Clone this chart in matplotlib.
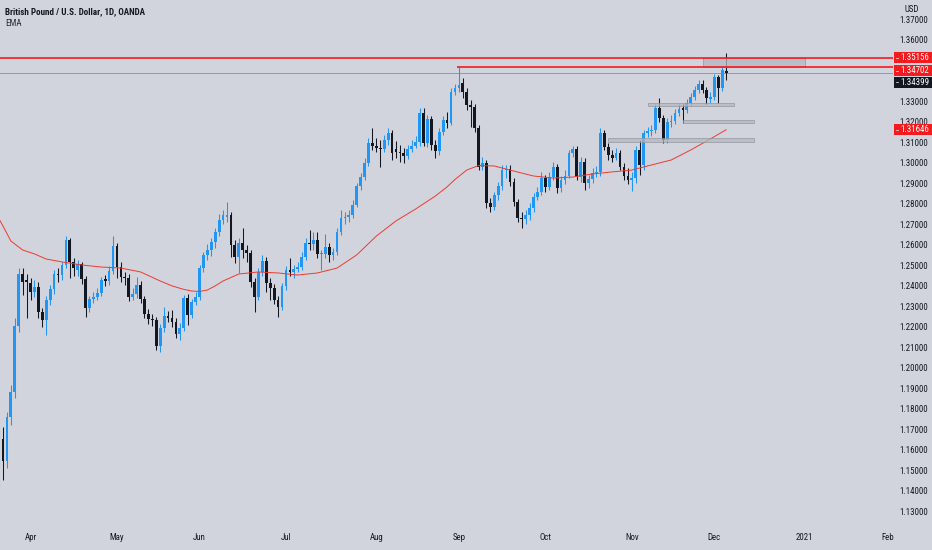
import numpy as np
import pandas as pd
import matplotlib
matplotlib.use("Agg")
from matplotlib import pyplot as plt
from matplotlib import font_manager
from matplotlib.patches import Rectangle
from matplotlib.transforms import blended_transform_factory

# GBPUSD daily bars, first bar is Fri 2020-03-20
first_day = "2020-03-20"

opens = [1.1490,
         1.1656, 1.1548, 1.1764, 1.1885, 1.2208, 1.2461, 1.2432, 1.2417, 1.2373, 1.2398,
         1.2275, 1.2237, 1.2334, 1.2388, 1.2461, 1.2456, 1.2505, 1.2627, 1.2519, 1.2481,
         1.2510, 1.2437, 1.2295, 1.2339, 1.2349, 1.2368, 1.2437, 1.2427, 1.2476, 1.2598,
         1.2495, 1.2447, 1.2442, 1.2349, 1.2364, 1.2408, 1.2339, 1.2266, 1.2242, 1.2237,
         1.2110, 1.2198, 1.2256, 1.2247, 1.2227, 1.2168, 1.2198, 1.2344, 1.2261, 1.2324,
         1.2349, 1.2491, 1.2554, 1.2578, 1.2617, 1.2666, 1.2724, 1.2739, 1.2749, 1.2603,
         1.2544, 1.2612, 1.2578, 1.2564, 1.2422, 1.2349, 1.2471, 1.2524, 1.2417, 1.2393,
         1.2334, 1.2300, 1.2403, 1.2481, 1.2471, 1.2485, 1.2495, 1.2544, 1.2612, 1.2607,
         1.2627, 1.2559, 1.2560, 1.2593, 1.2554, 1.2568, 1.2666, 1.2734, 1.2739, 1.2749,
         1.2798, 1.2890, 1.2934, 1.3003, 1.3100, 1.3085, 1.3076, 1.3071, 1.3115, 1.3149,
         1.3071, 1.3056, 1.3051, 1.3037, 1.3071, 1.3085, 1.3105, 1.3246, 1.3100, 1.3217,
         1.3090, 1.3061, 1.3154, 1.3212, 1.3198, 1.3349, 1.3368, 1.3393, 1.3349, 1.3285,
         1.3276, 1.3173, 1.2983, 1.3003, 1.2807, 1.2788, 1.2846, 1.2890, 1.2968, 1.2973,
         1.2910, 1.2812, 1.2734, 1.2729, 1.2749, 1.2783, 1.2837, 1.2861, 1.2930, 1.2886,
         1.2934, 1.2983, 1.2881, 1.2920, 1.2939, 1.3051, 1.3071, 1.2934, 1.3007, 1.2905,
         1.2925, 1.2954, 1.2959, 1.3149, 1.3081, 1.3042, 1.3027, 1.3051, 1.2983, 1.2939,
         1.2920, 1.2930, 1.3066, 1.2993, 1.3149, 1.3158, 1.3163, 1.3271, 1.3222, 1.3115,
         1.3202, 1.3207, 1.3246, 1.3271, 1.3261, 1.3295, 1.3324, 1.3359, 1.3388, 1.3359,
         1.3315, 1.3324, 1.3422, 1.3368, 1.3451]

highs = [1.1700,
         1.1715, 1.1787, 1.1919, 1.2247, 1.2491, 1.2491, 1.2461, 1.2442, 1.2432, 1.2422,
         1.2295, 1.2354, 1.2408, 1.2481, 1.2491, 1.2519, 1.2646, 1.2637, 1.2539, 1.2529,
         1.2519, 1.2451, 1.2354, 1.2373, 1.2393, 1.2447, 1.2456, 1.2500, 1.2646, 1.2612,
         1.2519, 1.2471, 1.2461, 1.2393, 1.2447, 1.2427, 1.2354, 1.2290, 1.2266, 1.2251,
         1.2217, 1.2300, 1.2280, 1.2285, 1.2247, 1.2222, 1.2359, 1.2364, 1.2339, 1.2373,
         1.2505, 1.2568, 1.2607, 1.2637, 1.2685, 1.2754, 1.2773, 1.2812, 1.2763, 1.2627,
         1.2637, 1.2685, 1.2603, 1.2578, 1.2442, 1.2491, 1.2554, 1.2544, 1.2442, 1.2412,
         1.2354, 1.2417, 1.2500, 1.2539, 1.2505, 1.2519, 1.2568, 1.2637, 1.2676, 1.2666,
         1.2666, 1.2578, 1.2656, 1.2612, 1.2588, 1.2685, 1.2773, 1.2763, 1.2773, 1.2822,
         1.2905, 1.2954, 1.3027, 1.3124, 1.3173, 1.3124, 1.3115, 1.3139, 1.3173, 1.3163,
         1.3110, 1.3090, 1.3076, 1.3090, 1.3115, 1.3134, 1.3271, 1.3271, 1.3237, 1.3232,
         1.3115, 1.3173, 1.3232, 1.3251, 1.3368, 1.3388, 1.3471, 1.3417, 1.3368, 1.3310,
         1.3290, 1.3188, 1.3032, 1.3017, 1.2832, 1.2861, 1.2910, 1.2993, 1.2993, 1.2993,
         1.2930, 1.2827, 1.2763, 1.2773, 1.2807, 1.2856, 1.2886, 1.2959, 1.2944, 1.2959,
         1.3007, 1.2998, 1.2939, 1.2968, 1.3066, 1.3085, 1.3085, 1.3032, 1.3027, 1.2944,
         1.2978, 1.2988, 1.3173, 1.3163, 1.3100, 1.3066, 1.3076, 1.3066, 1.3003, 1.2978,
         1.2959, 1.3085, 1.3115, 1.3163, 1.3178, 1.3188, 1.3290, 1.3319, 1.3237, 1.3222,
         1.3237, 1.3266, 1.3290, 1.3290, 1.3315, 1.3344, 1.3378, 1.3407, 1.3407, 1.3373,
         1.3349, 1.3437, 1.3432, 1.3476, 1.3539]

lows = [1.1417,
        1.1456, 1.1515, 1.1725, 1.1856, 1.2178, 1.2359, 1.2247, 1.2334, 1.2349, 1.2247,
        1.2203, 1.2163, 1.2310, 1.2364, 1.2422, 1.2432, 1.2491, 1.2442, 1.2451, 1.2451,
        1.2412, 1.2251, 1.2275, 1.2319, 1.2334, 1.2354, 1.2403, 1.2408, 1.2461, 1.2442,
        1.2422, 1.2408, 1.2329, 1.2334, 1.2344, 1.2319, 1.2247, 1.2217, 1.2208, 1.2090,
        1.2081, 1.2178, 1.2227, 1.2203, 1.2149, 1.2139, 1.2183, 1.2212, 1.2247, 1.2310,
        1.2334, 1.2471, 1.2529, 1.2549, 1.2588, 1.2646, 1.2705, 1.2715, 1.2544, 1.2515,
        1.2466, 1.2539, 1.2519, 1.2398, 1.2275, 1.2334, 1.2451, 1.2373, 1.2334, 1.2315,
        1.2251, 1.2285, 1.2383, 1.2451, 1.2442, 1.2471, 1.2481, 1.2529, 1.2578, 1.2578,
        1.2539, 1.2481, 1.2539, 1.2519, 1.2529, 1.2554, 1.2651, 1.2705, 1.2715, 1.2734,
        1.2788, 1.2871, 1.2920, 1.2988, 1.3066, 1.3056, 1.2983, 1.3056, 1.3090, 1.3017,
        1.3027, 1.3007, 1.3003, 1.3022, 1.3056, 1.3076, 1.3085, 1.3085, 1.3081, 1.3066,
        1.3027, 1.3042, 1.3139, 1.3173, 1.3188, 1.3334, 1.3349, 1.3319, 1.3261, 1.3178,
        1.3154, 1.2968, 1.2968, 1.2783, 1.2763, 1.2773, 1.2822, 1.2871, 1.2930, 1.2890,
        1.2793, 1.2715, 1.2685, 1.2705, 1.2724, 1.2763, 1.2822, 1.2846, 1.2861, 1.2871,
        1.2920, 1.2856, 1.2861, 1.2900, 1.2930, 1.3032, 1.2920, 1.2910, 1.2871, 1.2881,
        1.2905, 1.2934, 1.2939, 1.3066, 1.3017, 1.3007, 1.3017, 1.2968, 1.2920, 1.2900,
        1.2866, 1.2905, 1.2944, 1.2968, 1.3129, 1.3134, 1.3149, 1.3202, 1.3100, 1.3100,
        1.3178, 1.3193, 1.3232, 1.3198, 1.3246, 1.3281, 1.3310, 1.3344, 1.3344, 1.3290,
        1.3295, 1.3310, 1.3295, 1.3354, 1.3407]

closes = [1.1671,
          1.1548, 1.1764, 1.1885, 1.2208, 1.2461, 1.2422, 1.2422, 1.2373, 1.2398, 1.2275,
          1.2237, 1.2334, 1.2388, 1.2461, 1.2456, 1.2505, 1.2627, 1.2519, 1.2491, 1.2510,
          1.2437, 1.2295, 1.2339, 1.2349, 1.2368, 1.2432, 1.2427, 1.2476, 1.2598, 1.2495,
          1.2447, 1.2442, 1.2349, 1.2364, 1.2408, 1.2339, 1.2266, 1.2242, 1.2237, 1.2110,
          1.2198, 1.2256, 1.2247, 1.2227, 1.2168, 1.2198, 1.2344, 1.2261, 1.2324, 1.2349,
          1.2491, 1.2554, 1.2578, 1.2617, 1.2666, 1.2724, 1.2749, 1.2749, 1.2603, 1.2544,
          1.2612, 1.2578, 1.2564, 1.2422, 1.2349, 1.2471, 1.2524, 1.2417, 1.2393, 1.2334,
          1.2300, 1.2403, 1.2481, 1.2471, 1.2485, 1.2495, 1.2544, 1.2612, 1.2607, 1.2627,
          1.2559, 1.2560, 1.2593, 1.2554, 1.2568, 1.2666, 1.2734, 1.2739, 1.2749, 1.2798,
          1.2890, 1.2934, 1.3003, 1.3100, 1.3085, 1.3076, 1.3071, 1.3115, 1.3149, 1.3051,
          1.3056, 1.3051, 1.3037, 1.3071, 1.3085, 1.3105, 1.3246, 1.3100, 1.3217, 1.3090,
          1.3061, 1.3154, 1.3212, 1.3198, 1.3349, 1.3368, 1.3383, 1.3349, 1.3285, 1.3276,
          1.3173, 1.2983, 1.3003, 1.2807, 1.2788, 1.2846, 1.2890, 1.2968, 1.2973, 1.2910,
          1.2812, 1.2734, 1.2729, 1.2749, 1.2783, 1.2837, 1.2861, 1.2930, 1.2886, 1.2934,
          1.2983, 1.2881, 1.2920, 1.2939, 1.3051, 1.3071, 1.2934, 1.3007, 1.2905, 1.2925,
          1.2954, 1.2959, 1.3149, 1.3081, 1.3042, 1.3027, 1.3051, 1.2983, 1.2939, 1.2920,
          1.2930, 1.3066, 1.2993, 1.3149, 1.3158, 1.3163, 1.3271, 1.3222, 1.3115, 1.3202,
          1.3207, 1.3246, 1.3266, 1.3261, 1.3295, 1.3324, 1.3359, 1.3388, 1.3359, 1.3320,
          1.3324, 1.3422, 1.3368, 1.3456, 1.34399]

# EMA read at a bar every few days (bar number counted from first_day)
ema_bars = [0, 1, 3, 6, 9, 12, 16, 21, 26, 31, 36, 41, 44, 47, 49, 51, 53, 55, 57, 61,
            66, 71, 76, 81, 86, 91, 96, 101, 106, 111, 114, 116, 119, 122, 126, 131, 136,
            141, 146, 151, 156, 161, 166, 171, 176, 181, 185]
ema_values = [1.2729, 1.2695, 1.2622, 1.2578, 1.2559, 1.2534, 1.2520, 1.2505, 1.2495, 1.2490,
              1.2471, 1.2427, 1.2403, 1.2386, 1.2378, 1.2376, 1.2383, 1.2403, 1.2427, 1.2461,
              1.2471, 1.2466, 1.2456, 1.2466, 1.2490, 1.2554, 1.2646, 1.2720, 1.2778, 1.2841,
              1.2886, 1.2922, 1.2968, 1.2990, 1.2988, 1.2963, 1.2939, 1.2929, 1.2934, 1.2949,
              1.2959, 1.2968, 1.2993, 1.3017, 1.3066, 1.3120, 1.31646]

# horizontal levels drawn on the chart
level_prices = [1.35156, 1.34702]
level_starts = ["2020-03-20", "2020-09-01"]
last_price = 1.34399

# grey zones
zone_starts = ["2020-11-26", "2020-11-06", "2020-11-19", "2020-10-23"]
zone_ends = ["2021-01-01", "2020-12-08", "2020-12-15", "2020-12-15"]
zone_lows = [1.34702, 1.3281, 1.3198, 1.3103]
zone_highs = [1.35156, 1.3295, 1.3212, 1.3124]

month_labels = ["Apr", "May", "Jun", "Jul", "Aug", "Sep", "Oct", "Nov", "Dec", "2021", "Feb"]
month_firsts = ["2020-04-01", "2020-05-01", "2020-06-01", "2020-07-01", "2020-08-03",
                "2020-09-01", "2020-10-01", "2020-11-02", "2020-12-01", "2021-01-01",
                "2021-02-01"]

price_ticks = [1.37, 1.36, 1.33, 1.32, 1.31, 1.30, 1.29, 1.28, 1.27, 1.26, 1.25, 1.24,
               1.23, 1.22, 1.21, 1.20, 1.19, 1.18, 1.17, 1.16, 1.15, 1.14, 1.13]

BG = "#d1d4dc"
BLUE = "#2196f3"
DARK = "#131722"
RED = "#f51a1e"


def narrow_font():
    # the chart uses a narrow face; take one if the box has it
    fonts = font_manager.fontManager.ttflist
    names = {f.name for f in fonts}
    for name in ["Liberation Sans Narrow", "Roboto Condensed", "Open Sans Condensed",
                 "Noto Sans Condensed", "DejaVu Sans Condensed", "Arial Narrow"]:
        if name in names:
            return {"family": [name, "DejaVu Sans"]}, 1.0
    for f in fonts:
        if f.name in ("DejaVu Sans", "Noto Sans", "Open Sans", "Roboto") and \
                str(f.stretch) in ("condensed", "semi-condensed", "extra-condensed"):
            return {"family": [f.name, "DejaVu Sans"], "stretch": f.stretch}, 1.0
    return {"family": ["Roboto", "DejaVu Sans"]}, 0.86


FONT, SCALE = narrow_font()
TICK_FS = 6.4 * SCALE
HEAD_FS = 6.5 * SCALE

days = pd.bdate_range(first_day, "2021-03-31")


def bar_of(day):
    return days.get_loc(pd.Timestamp(day))


fig = plt.figure(figsize=(9.32, 5.5), dpi=100, facecolor=BG)
ax = fig.add_axes([0, 25 / 550, 893 / 932, 525 / 550])
ax.set_facecolor(BG)
for s in ax.spines.values():
    s.set_visible(False)
ax.set_xticks([])
ax.set_yticks([])
ax.set_xlim(0.237, 227.46)
ax.set_ylim(1.12366, 1.37976)
px = (1.37976 - 1.12366) / 525  # price per pixel
xright = 227.46

o = np.array(opens)
h = np.array(highs)
l = np.array(lows)
c = np.array(closes)
x = np.arange(len(o))
colors = np.where(c >= o, BLUE, DARK)

# candles
ax.vlines(x, l, h, colors=colors, lw=0.75, zorder=2)
ax.bar(x, np.maximum(np.abs(c - o), px * 0.9), bottom=np.minimum(o, c), width=0.7,
       color=colors, linewidth=0, zorder=3)

# EMA
ax.plot(ema_bars, ema_values, color="#ee3a2e", lw=0.7, zorder=4, solid_joinstyle="round")

# levels
ax.axhline(last_price, color="#9598a1", lw=0.7, zorder=1)
for price, start in zip(level_prices, level_starts):
    ax.hlines(price, bar_of(start) - 0.5, xright, color=RED, lw=1.2, zorder=6)

# zones
for s0, s1, lo, hi in zip(zone_starts, zone_ends, zone_lows, zone_highs):
    ax.add_patch(Rectangle((bar_of(s0), lo), bar_of(s1) - bar_of(s0), hi - lo,
                           facecolor="#b4b7bf", alpha=0.75, edgecolor="#8f929b",
                           lw=0.6, zorder=5))

# price scale
blend = blended_transform_factory(ax.transAxes, ax.transData)
label_x = 914 / 893
for p in price_ticks:
    ax.text(label_x, p, f"{p:.5f}", transform=blend, ha="center", va="center",
            fontsize=TICK_FS, color=DARK, **FONT)

tags = [(level_prices[0], RED, 0), (level_prices[1], RED, 3.5),
        (last_price, DARK, 9), (ema_values[-1], RED, 0)]
for p, col, shift in tags:
    yc = p - shift * px
    ax.add_patch(Rectangle((894 / 893, yc - 5.5 * px), 38 / 893, 11 * px, transform=blend,
                           facecolor=col, edgecolor="none", clip_on=False, zorder=8))
    ax.plot([895.5 / 893, 898 / 893], [yc, yc], transform=blend, color="white", lw=0.5,
            clip_on=False, zorder=9)
    ax.text(label_x + 0.5 / 893, yc, f"{p:.5f}", transform=blend, ha="center", va="center",
            fontsize=TICK_FS, color="white", zorder=9, **FONT)

fig.text(912 / 932, 1 - 10 / 550, "USD", ha="center", va="center", fontsize=TICK_FS,
         color=DARK, **FONT)

# time scale
xblend = blended_transform_factory(ax.transData, ax.transAxes)
for lab, day in zip(month_labels, month_firsts):
    ax.text(bar_of(day), -12 / 525, lab, transform=xblend, ha="center", va="center",
            fontsize=TICK_FS, color=DARK, **FONT)

# header
fig.text(5 / 932, 1 - 11.5 / 550, "British Pound / U.S. Dollar, 1D, OANDA", ha="left",
         va="center", fontsize=HEAD_FS, fontweight="bold", color=DARK, **FONT)
fig.text(5 / 932, 1 - 23 / 550, "EMA", ha="left", va="center", fontsize=HEAD_FS,
         color="#2a2e39", **FONT)

fig.savefig("out.png", dpi=100, facecolor=BG)
